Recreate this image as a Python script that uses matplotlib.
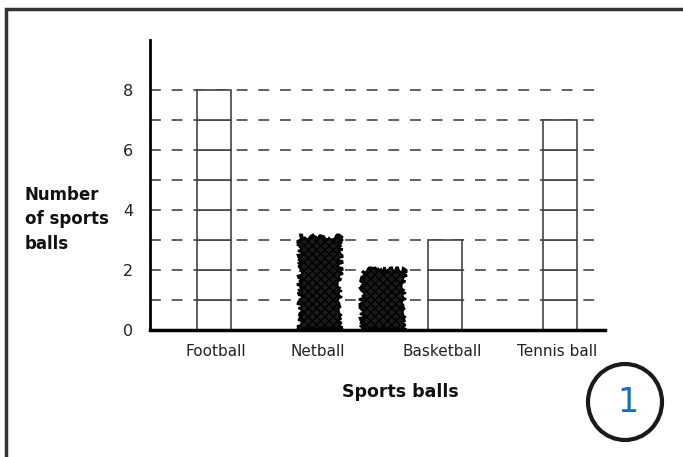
import numpy as np
import matplotlib.pyplot as plt
from matplotlib.patches import Rectangle, Ellipse

# chart data
categories = ['Football', 'Netball', 'Basketball', 'Tennis ball']
counts = [8, 3, 3, 7]
scribbled = [False, True, False, False]
extra_scribble = 2      # the crossed-out extra bar next to netball
yticks = [0, 2, 4, 6, 8]

# layout (x in units of one bar width)
bar_x = [1.88, 5.0, 8.68, 12.06]
label_x = [1.94, 4.94, 8.59, 11.97]
extra_x = 6.85

fig = plt.figure(figsize=(6.83, 4.57), dpi=100)
ax = fig.add_axes([150/683, 1-330/457, 455/683, 290/457])
ax.set_xlim(0, 455/34)
ax.set_ylim(0, 290/30)

# dashed guide lines
for v in range(1, 9):
    ax.axhline(v, color='#555555', lw=1.3, dashes=(6, 6), zorder=1)

for i in range(len(categories)):
    v = counts[i]
    if scribbled[i]:
        b = ax.bar(bar_x[i], v + 0.1, width=1.2, color='#1a1a1a', edgecolor='black',
                   hatch='xxxx', lw=1.5, zorder=3)
        for p in b:
            p.set_sketch_params(scale=2.5, length=8, randomness=20)
    else:
        ax.bar([bar_x[i]] * v, [1] * v, bottom=np.arange(v), width=1.0,
               facecolor='white', edgecolor='#444444', lw=1.2, zorder=3)

b = ax.bar(extra_x, extra_scribble, width=1.25, color='#1a1a1a', edgecolor='black',
           hatch='xxxx', lw=1.5, zorder=3)
for p in b:
    p.set_sketch_params(scale=2.5, length=8, randomness=20)

for s in ['top', 'right']:
    ax.spines[s].set_visible(False)
ax.spines['left'].set_linewidth(2)
ax.spines['bottom'].set_linewidth(2.5)
ax.spines['left'].set_zorder(5)
ax.spines['bottom'].set_zorder(5)

ax.set_yticks(yticks)
ax.set_yticklabels([str(t) for t in yticks], fontsize=11.5, color='#222222')
ax.tick_params(axis='y', length=0, pad=12)
ax.set_xticks(label_x)
ax.set_xticklabels(categories, fontsize=11, color='#222222')
ax.tick_params(axis='x', length=0, pad=10)

fig.text(25/683, 1-186/457, 'Number\nof sports\nballs', fontsize=12, fontweight='bold',
         ha='left', va='top', linespacing=1.45, color='#111111')
fig.text(400/683, 1-392/457, 'Sports balls', fontsize=12.5, fontweight='bold',
         ha='center', va='center', color='#111111')

# page frame and circled number
fig.patches.append(Rectangle((6/683, -0.1), 700/683, 1.1 - 9/457, transform=fig.transFigure,
                             fill=False, edgecolor='#333333', lw=2.5))
fig.patches.append(Ellipse((625/683, 1-402/457), 74/683, 76/457, transform=fig.transFigure,
                           fill=False, edgecolor='#1a1a1a', lw=3))
fig.text(628/683, 1-403/457, '1', fontsize=24, color='#1b6fb8', ha='center', va='center')

fig.savefig('out.png', dpi=100)
